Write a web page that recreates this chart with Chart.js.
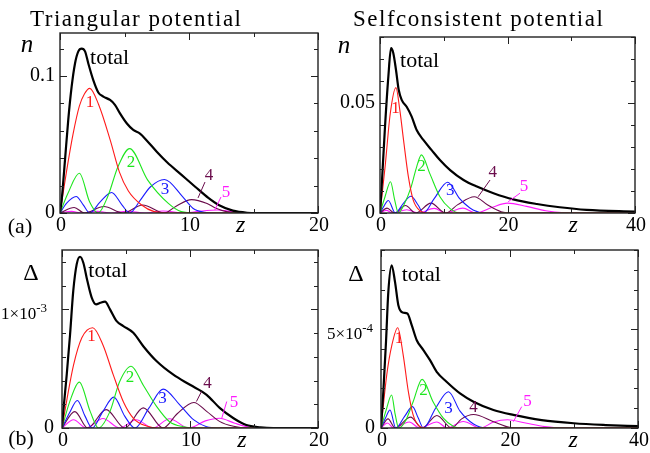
<!DOCTYPE html>
<html>
<head>
<meta charset="utf-8">
<script src="https://cdn.jsdelivr.net/npm/chart.js@4.4.1/dist/chart.umd.min.js"></script>
<style>
  html, body { margin: 0; padding: 0; background: #fff; }
  #wrap { position: relative; width: 650px; height: 453px; overflow: hidden; }
  #wrap canvas { position: absolute; left: 0; top: 0; }
  .title { position: absolute; font: 23px "Liberation Serif", serif; line-height: 23px;
           letter-spacing: 1.5px; white-space: nowrap; color: #000; }
</style>
</head>
<body>
<div id="wrap">
  <canvas id="triN" width="650" height="453"></canvas>
  <canvas id="scN" width="650" height="453"></canvas>
  <canvas id="triD" width="650" height="453"></canvas>
  <canvas id="scD" width="650" height="453"></canvas>
  <div class="title" style="left:30px; top:7px;">Triangular potential</div>
  <div class="title" style="left:353px; top:7px;">Selfconsistent potential</div>
</div>
<script>
// ---- data: [z, value] ----
// (a) density n, triangular potential
const triN_total = [[0,0],[0.13,0.0095],[0.39,0.039],[0.64,0.068],[0.9,0.092],[1.16,0.109],[1.42,0.118],[1.68,0.120],[1.94,0.118],[2.2,0.109],[2.58,0.097],[2.97,0.088],[3.36,0.085],[3.88,0.0825],[4.26,0.079],[4.65,0.0727],[5.17,0.0655],[5.68,0.0606],[6.2,0.058],[6.72,0.053],[7.5,0.0447],[8.3,0.037],[9.4,0.028],[10.5,0.019],[11.5,0.011],[12.3,0.0058],[13.4,0.0017],[14.5,0.0002],[15.3,0],[20,0]];
const triN_1 = [[0,0],[0.5,0.030],[1.0,0.057],[1.5,0.078],[1.9,0.087],[2.3,0.091],[3.0,0.079],[3.9,0.053],[4.6,0.030],[5.3,0.016],[6.3,0.006],[7.3,0.001],[8.5,0],[20,0]];
const triN_2 = [[0,0],[0.6,0.014],[1.5,0.029],[2.3,0.008],[2.95,0],[3.7,0.012],[4.5,0.034],[5.4,0.047],[6.8,0.024],[8.4,0.007],[9.4,0.001],[10.5,0],[20,0]];
const triN_3 = [[0,0],[0.5,0.007],[1.25,0.012],[1.8,0.006],[2.3,0],[3.1,0.008],[4.0,0.015],[4.8,0.006],[5.4,0],[6.2,0.009],[7.0,0.019],[8.1,0.0245],[9.5,0.012],[10.3,0.0035],[11.2,0.0005],[12,0],[20,0]];
const triN_4 = [[0,0],[1.1,0.004],[1.9,0],[3.4,0.0047],[4.9,0],[6.4,0.0058],[8.1,0],[9.0,0.005],[10.2,0.0098],[11.4,0.007],[12.1,0.0035],[12.9,0.001],[14,0],[20,0]];
const triN_5 = [[0,0],[0.9,0.0012],[1.7,0],[2.9,0.0012],[4.0,0],[5.2,0.0013],[6.6,0],[8.0,0.0015],[9.7,0],[11,0.0015],[12.2,0.0022],[13.3,0.001],[14.5,0],[20,0]];

// (a) density n, selfconsistent potential
const scN_total = [[0,0],[0.26,0.012],[0.78,0.039],[1.31,0.062],[1.73,0.0749],[2.09,0.0726],[2.51,0.065],[2.93,0.056],[3.4,0.0514],[4.18,0.0483],[4.97,0.0438],[5.75,0.0377],[6.8,0.0332],[8.1,0.0286],[9.4,0.0241],[11,0.0195],[13.1,0.015],[15.2,0.012],[17.8,0.009],[20.9,0.0062],[24.6,0.0041],[28.2,0.0026],[32.4,0.0014],[40,0.0006]];
const scN_1 = [[0,0],[0.8,0.021],[1.6,0.045],[2.5,0.057],[3.1,0.047],[3.7,0.033],[4.45,0.0165],[5.2,0.006],[6.3,0.001],[7.5,0],[40,0]];
const scN_2 = [[0,0],[0.8,0.0075],[1.65,0.0142],[2.3,0.006],[2.9,0],[3.8,0.004],[4.9,0.012],[5.75,0.021],[6.5,0.0264],[7.8,0.018],[9.4,0.0074],[11,0.002],[12.5,0],[40,0]];
const scN_3 = [[0,0],[0.6,0.003],[1.3,0.0057],[2.4,0],[3.7,0.0045],[4.85,0.0076],[6.0,0.0035],[6.8,0],[8.5,0.0065],[10.6,0.014],[12.5,0.0065],[13.3,0.0042],[14.6,0.0014],[16.5,0],[40,0]];
const scN_4 = [[0,0],[1.1,0.0022],[2.3,0],[4.0,0.0034],[5.6,0],[8.0,0.0045],[10.3,0],[12.2,0.0038],[14.8,0.0074],[16.9,0.0036],[19,0.0006],[21,0],[40,0]];
const scN_5 = [[0,0],[1.0,0.0012],[2.0,0],[4.2,0.0015],[6.0,0],[8.5,0.0021],[10.3,0],[13,0.0022],[15,0],[17.5,0.0025],[20,0.0045],[23,0.003],[26,0.001],[29,0.0001],[31,0],[40,0]];

// (b) gap Delta, triangular potential
const triD_total = [[0,0],[0.1,0.138e-3],[0.37,0.449e-3],[0.63,0.788e-3],[0.88,1.155e-3],[1.15,1.381e-3],[1.41,1.443e-3],[1.66,1.395e-3],[1.98,1.24e-3],[2.32,1.099e-3],[2.66,1.042e-3],[3.0,1.056e-3],[3.36,1.065e-3],[3.75,1.0e-3],[4.27,0.901e-3],[4.79,0.859e-3],[5.57,0.802e-3],[6.35,0.689e-3],[7.4,0.562e-3],[8.7,0.449e-3],[10.0,0.364e-3],[11.3,0.28e-3],[12.34,0.167e-3],[13.4,0.082e-3],[14.4,0.025e-3],[15.5,0.006e-3],[16.5,0],[20,0]];
const triD_1 = [[0,0],[0.4,0.25e-3],[0.9,0.53e-3],[1.55,0.76e-3],[2.4,0.845e-3],[3.2,0.70e-3],[4.0,0.45e-3],[4.8,0.22e-3],[5.6,0.08e-3],[6.6,0.017e-3],[7.6,0],[20,0]];
const triD_2 = [[0,0],[0.6,0.22e-3],[1.35,0.387e-3],[2.2,0.14e-3],[2.85,0],[3.75,0.14e-3],[4.5,0.39e-3],[5.4,0.52e-3],[6.35,0.36e-3],[7.4,0.18e-3],[8.4,0.053e-3],[9.5,0.01e-3],[10.5,0],[20,0]];
const triD_3 = [[0,0],[0.6,0.13e-3],[1.2,0.232e-3],[1.8,0.1e-3],[2.35,0],[3.2,0.14e-3],[4.05,0.26e-3],[4.9,0.1e-3],[5.7,0],[6.8,0.17e-3],[7.9,0.328e-3],[9.2,0.195e-3],[10.3,0.068e-3],[11.3,0.01e-3],[12.2,0],[20,0]];
const triD_4 = [[0,0],[1.0,0.138e-3],[2.0,0],[3.45,0.155e-3],[4.9,0],[6.35,0.17e-3],[7.9,0],[9.0,0.12e-3],[10.3,0.215e-3],[11.3,0.14e-3],[12.3,0.056e-3],[13.4,0.014e-3],[14.5,0],[20,0]];
const triD_5 = [[0,0],[0.9,0.07e-3],[1.9,0],[3.2,0.08e-3],[4.5,0],[5.8,0.07e-3],[7.1,0],[8.4,0.078e-3],[9.9,0],[11.2,0.06e-3],[12.3,0.082e-3],[13.5,0.04e-3],[14.5,0.01e-3],[15.5,0],[20,0]];

// (b) gap Delta, selfconsistent potential
const scD_total = [[0,0],[0.36,1.83e-4],[0.78,4.36e-4],[1.14,6.88e-4],[1.66,8.23e-4],[2.18,7.39e-4],[2.7,6.21e-4],[3.37,5.84e-4],[4.1,5.79e-4],[4.78,5.2e-4],[5.56,4.44e-4],[6.6,3.94e-4],[7.63,3.43e-4],[8.67,2.84e-4],[10.2,2.34e-4],[12.3,1.75e-4],[14.4,1.33e-4],[17.5,0.91e-4],[20.6,0.66e-4],[25,0.4e-4],[30,0.24e-4],[35,0.15e-4],[40,0.09e-4]];
const scD_1 = [[0,0],[0.9,2.7e-4],[1.7,4.2e-4],[2.6,5.07e-4],[3.45,3.7e-4],[4.25,1.85e-4],[5.0,0.66e-4],[6.0,0.08e-4],[7,0],[40,0]];
const scD_2 = [[0,0],[0.8,0.9e-4],[1.65,1.67e-4],[2.2,0.7e-4],[2.75,0],[3.8,0.35e-4],[5.0,1.33e-4],[6.4,2.46e-4],[8.1,1.33e-4],[9.7,0.5e-4],[11.3,0.08e-4],[12.5,0],[40,0]];
const scD_3 = [[0,0],[0.7,0.5e-4],[1.4,0.91e-4],[2.3,0],[3.7,0.6e-4],[4.9,1.08e-4],[5.8,0.5e-4],[6.6,0],[8.5,1.0e-4],[10.5,1.83e-4],[12.3,0.85e-4],[14.4,0.2e-4],[16.5,0],[40,0]];
const scD_4 = [[0,0],[1.1,0.46e-4],[2.2,0],[4.6,0.55e-4],[6.4,0],[8.7,0.63e-4],[11,0],[12.5,0.45e-4],[14.4,0.68e-4],[17.5,0.32e-4],[20,0.03e-4],[21.5,0],[40,0]];
const scD_5 = [[0,0],[1.0,0.25e-4],[2.0,0],[4.4,0.3e-4],[6.0,0],[8.7,0.3e-4],[10.3,0],[12.8,0.33e-4],[15.5,0],[17.5,0.3e-4],[19.7,0.42e-4],[22.5,0.25e-4],[25.5,0.07e-4],[28,0],[40,0]];

// ---- styling ----
const SERIF = '"Liberation Serif", "Times New Roman", serif';
const COLORS = ['#000000', '#ff1a1a', '#1ee61e', '#1a1aff', '#6a0c4c', '#ff1aff'];

function curves(list) {
  return list.map((pts, i) => ({
    data: pts.map(p => ({ x: p[0], y: p[1] })),
    borderColor: COLORS[i],
    borderWidth: i === 0 ? 2.2 : 1.1,
    pointRadius: 0,
    fill: false,
    cubicInterpolationMode: 'monotone'
  }));
}

const framePlugin = {
  id: 'frame',
  afterDatasetsDraw(chart, args, o) {
    const ctx = chart.ctx, a = chart.chartArea;
    const xs = chart.scales.x, ys = chart.scales.y;
    const X = v => xs.getPixelForValue(v), Y = v => ys.getPixelForValue(v);
    const seg = (x1, y1, x2, y2) => { ctx.beginPath(); ctx.moveTo(x1, y1); ctx.lineTo(x2, y2); ctx.stroke(); };
    const isMajor = (v, m) => Math.abs(v / m - Math.round(v / m)) < 1e-6;
    ctx.save();
    ctx.strokeStyle = '#222';
    ctx.lineWidth = 1;
    // inward ticks on all four sides
    for (let i = 0; i * o.xMinor <= xs.max + 1e-9; i++) {
      const v = i * o.xMinor, px = Math.round(X(v)) + 0.5, len = isMajor(v, o.xMajor) ? 7 : 4;
      seg(px, a.bottom, px, a.bottom - len);
      seg(px, a.top, px, a.top + len);
    }
    for (let i = 0; i * o.yMinor <= ys.max * (1 + 1e-9); i++) {
      const v = i * o.yMinor, py = Math.round(Y(v)) + 0.5, len = isMajor(v, o.yMajor) ? 7 : 4;
      seg(a.left, py, a.left + len, py);
      seg(a.right, py, a.right - len, py);
    }
    ctx.lineWidth = 1.4;
    ctx.strokeRect(a.left, a.top, a.right - a.left, a.bottom - a.top);

    // x tick labels and z
    ctx.fillStyle = '#000';
    ctx.textBaseline = 'top';
    ctx.textAlign = 'center';
    ctx.font = '20px ' + SERIF;
    for (let i = 0; i * o.xMajor <= xs.max + 1e-9; i++) {
      const v = i * o.xMajor;
      ctx.fillText(String(v), X(v) + 1, a.bottom + 3);
    }
    ctx.font = 'italic 24px ' + SERIF;
    ctx.fillText('z', X(o.zAt), a.bottom + 1);

    // y tick labels
    ctx.textBaseline = 'middle';
    ctx.textAlign = 'right';
    o.yLabels.forEach(l => {
      const py = Y(l.v) + (l.dy || 0);
      if (l.sup) {
        ctx.font = '13px ' + SERIF;
        const w = ctx.measureText(l.sup).width;
        ctx.fillText(l.sup, l.right, py - 6);
        ctx.font = '17px ' + SERIF;
        ctx.fillText(l.t, l.right - w, py);
      } else {
        ctx.font = '20px ' + SERIF;
        ctx.fillText(l.t, l.right, py);
      }
    });

    // curve annotations
    o.notes.forEach(n => {
      ctx.fillStyle = n.c;
      ctx.font = n.f;
      ctx.textAlign = n.align || 'center';
      ctx.fillText(n.t, X(n.x), Y(n.y));
    });
    ctx.lineWidth = 1;
    (o.leaders || []).forEach(l => {
      ctx.strokeStyle = l.c;
      seg(X(l.x1), Y(l.y1), X(l.x2), Y(l.y2));
    });

    // axis names and panel tags, in page coordinates
    ctx.fillStyle = '#000';
    ctx.textBaseline = 'alphabetic';
    (o.extra || []).forEach(e => {
      ctx.font = e.f;
      ctx.textAlign = 'center';
      ctx.fillText(e.t, e.x, e.y);
    });
    ctx.restore();
  }
};

function panel(id, box, xMax, yMax, sets, frame) {
  return new Chart(document.getElementById(id), {
    type: 'line',
    data: { datasets: curves(sets) },
    plugins: [framePlugin],
    options: {
      responsive: false,
      animation: false,
      devicePixelRatio: 1,
      layout: { padding: { left: box[0], top: box[1], right: 650 - box[2], bottom: 453 - box[3] } },
      scales: {
        x: { type: 'linear', min: 0, max: xMax, display: false },
        y: { type: 'linear', min: 0, max: yMax, display: false }
      },
      plugins: { legend: { display: false }, tooltip: { enabled: false }, frame }
    }
  });
}

const NUM = '17px ' + SERIF;
const WORD = '22px ' + SERIF;

panel('triN', [60, 33, 318, 213], 20, 0.1314,
  [triN_total, triN_1, triN_2, triN_3, triN_4, triN_5], {
    xMajor: 10, xMinor: 5, yMajor: 0.1, yMinor: 0.02, zAt: 14,
    yLabels: [{ v: 0, t: '0', right: 55 }, { v: 0.1, t: '0.1', right: 55 }],
    notes: [
      { t: 'total', x: 2.33, y: 0.113, c: '#000', f: WORD, align: 'left' },
      { t: '1', x: 2.33, y: 0.081, c: COLORS[1], f: NUM },
      { t: '2', x: 5.5, y: 0.0365, c: COLORS[2], f: NUM },
      { t: '3', x: 8.14, y: 0.0168, c: COLORS[3], f: NUM },
      { t: '4', x: 11.55, y: 0.027, c: COLORS[4], f: NUM },
      { t: '5', x: 12.87, y: 0.0153, c: COLORS[5], f: NUM }
    ],
    leaders: [
      { x1: 11.24, y1: 0.0226, x2: 10.7, y2: 0.011, c: COLORS[4] },
      { x1: 12.48, y1: 0.0117, x2: 12.0, y2: 0.0022, c: COLORS[5] }
    ],
    extra: [
      { t: 'n', x: 27, y: 52, f: 'italic 25px ' + SERIF },
      { t: '(a)', x: 20, y: 233, f: '22px ' + SERIF }
    ]
  });

panel('scN', [380, 37, 635, 213], 40, 0.08,
  [scN_total, scN_1, scN_2, scN_3, scN_4, scN_5], {
    xMajor: 20, xMinor: 10, yMajor: 0.05, yMinor: 0.01, zAt: 30.3,
    yLabels: [{ v: 0, t: '0', right: 375 }, { v: 0.05, t: '0.05', right: 375 }],
    notes: [
      { t: 'total', x: 3.14, y: 0.069, c: '#000', f: WORD, align: 'left' },
      { t: '1', x: 2.43, y: 0.0473, c: COLORS[1], f: NUM },
      { t: '2', x: 6.5, y: 0.0211, c: COLORS[2], f: NUM },
      { t: '3', x: 11, y: 0.01, c: COLORS[3], f: NUM },
      { t: '4', x: 17.7, y: 0.0186, c: COLORS[4], f: NUM },
      { t: '5', x: 22.6, y: 0.012, c: COLORS[5], f: NUM }
    ],
    leaders: [
      { x1: 17.26, y1: 0.015, x2: 15.4, y2: 0.0074, c: COLORS[4] },
      { x1: 21.96, y1: 0.009, x2: 20.1, y2: 0.0051, c: COLORS[5] }
    ],
    extra: [
      { t: 'n', x: 344, y: 53, f: 'italic 25px ' + SERIF }
    ]
  });

panel('triD', [62, 250, 318, 428], 20, 1.5e-3,
  [triD_total, triD_1, triD_2, triD_3, triD_4, triD_5], {
    xMajor: 10, xMinor: 5, yMajor: 1e-3, yMinor: 0.2e-3, zAt: 14.06,
    yLabels: [{ v: 0, t: '0', right: 54 }, { v: 1e-3, t: '1×10', sup: '-3', right: 47, dy: 5 }],
    notes: [
      { t: 'total', x: 2.06, y: 1.325e-3, c: '#000', f: WORD, align: 'left' },
      { t: '1', x: 2.3, y: 0.767e-3, c: COLORS[1], f: NUM },
      { t: '2', x: 5.31, y: 0.428e-3, c: COLORS[2], f: NUM },
      { t: '3', x: 7.85, y: 0.25e-3, c: COLORS[3], f: NUM },
      { t: '4', x: 11.37, y: 0.373e-3, c: COLORS[4], f: NUM },
      { t: '5', x: 13.44, y: 0.212e-3, c: COLORS[5], f: NUM }
    ],
    leaders: [
      { x1: 10.9, y1: 0.308e-3, x2: 10.5, y2: 0.223e-3, c: COLORS[4] },
      { x1: 12.87, y1: 0.223e-3, x2: 12.48, y2: 0.082e-3, c: COLORS[5] }
    ],
    extra: [
      { t: 'Δ', x: 31, y: 280, f: '24px ' + SERIF },
      { t: '(b)', x: 21, y: 445, f: '22px ' + SERIF }
    ]
  });

panel('scD', [381, 250, 638, 428], 40, 9e-4,
  [scD_total, scD_1, scD_2, scD_3, scD_4, scD_5], {
    xMajor: 20, xMinor: 10, yMajor: 5e-4, yMinor: 1e-4, zAt: 29.9,
    yLabels: [{ v: 0, t: '0', right: 375 }, { v: 5e-4, t: '5×10', sup: '-4', right: 373, dy: 5 }],
    notes: [
      { t: 'total', x: 3.22, y: 7.73e-4, c: '#000', f: WORD, align: 'left' },
      { t: '1', x: 2.8, y: 4.5e-4, c: COLORS[1], f: NUM },
      { t: '2', x: 6.6, y: 1.87e-4, c: COLORS[2], f: NUM },
      { t: '3', x: 10.5, y: 0.98e-4, c: COLORS[3], f: NUM },
      { t: '4', x: 14.4, y: 1.04e-4, c: COLORS[4], f: NUM },
      { t: '5', x: 22.8, y: 1.36e-4, c: COLORS[5], f: NUM }
    ],
    leaders: [
      { x1: 21.9, y1: 1.08e-4, x2: 20.6, y2: 0.32e-4, c: COLORS[5] }
    ],
    extra: [
      { t: 'Δ', x: 356, y: 281, f: '24px ' + SERIF }
    ]
  });
</script>
</body>
</html>
